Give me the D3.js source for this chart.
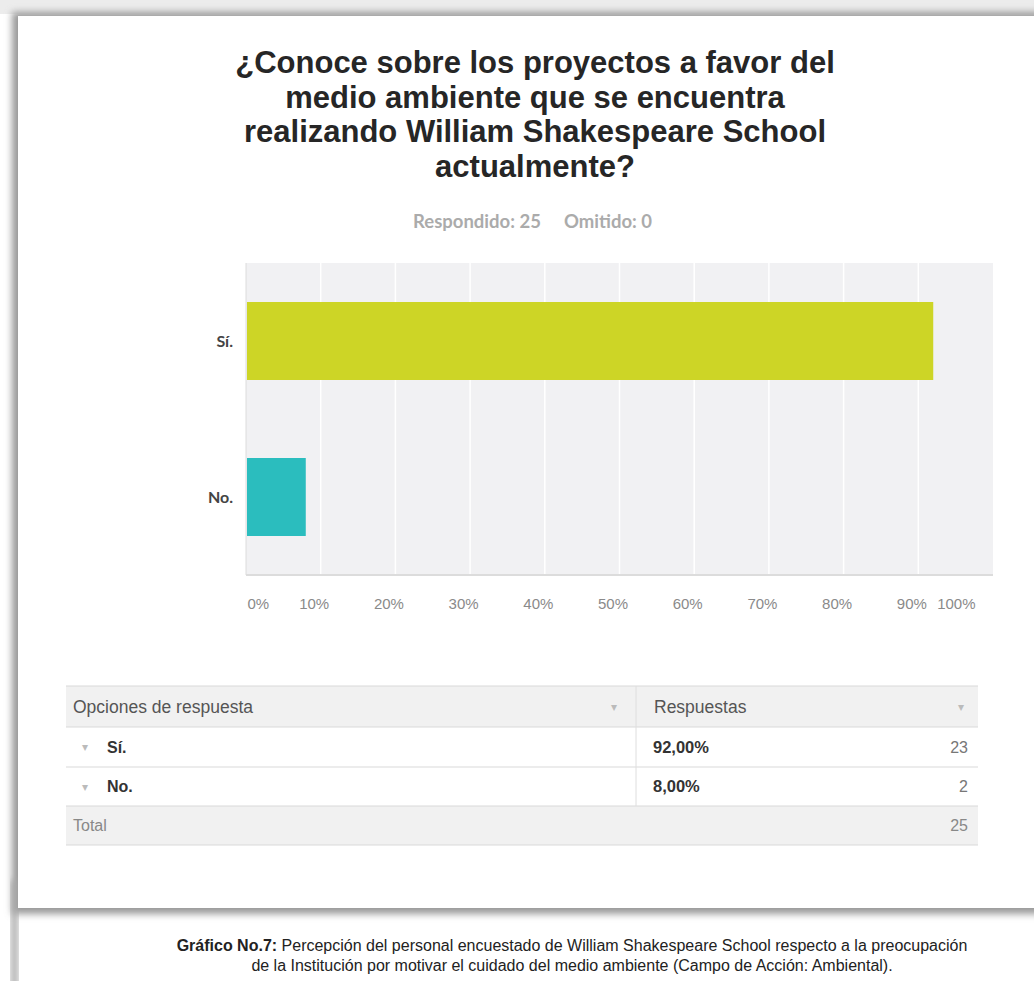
<!DOCTYPE html>
<html>
<head>
<meta charset="utf-8">
<script src="https://cdn.jsdelivr.net/npm/d3@7/dist/d3.min.js"></script>
<style>
  html, body { margin: 0; padding: 0; background: #ffffff; }
  svg { display: block; }
</style>
</head>
<body>
<svg id="chart" width="1034" height="981"></svg>
<script>
// ---- data ----
const titleLines = [
  "¿Conoce sobre los proyectos a favor del",
  "medio ambiente que se encuentra",
  "realizando William Shakespeare School",
  "actualmente?"
];
const answered = 25;
const omitted = 0;
const categories = ["Sí.", "No."];
const percents = [92, 8];
const counts = [23, 2];
const total = 25;
const barColors = ["#cdd526", "#2bbdbe"];
const xTicks = [0, 10, 20, 30, 40, 50, 60, 70, 80, 90, 100];
const tableHeaders = ["Opciones de respuesta", "Respuestas"];
const captionBold = "Gráfico No.7:";
const captionLine1 = " Percepción del personal encuestado de William Shakespeare School respecto a la preocupación";
const captionLine2 = "de la Institución por motivar el cuidado del medio ambiente (Campo de Acción: Ambiental).";

// ---- setup ----
const svg = d3.select("#chart");
const W = 1034, H = 981;
const sans = "'Liberation Sans', Arial, sans-serif";

const defs = svg.append("defs");
const blur = defs.append("filter").attr("id", "shadow")
  .attr("x", "-5%").attr("y", "-5%").attr("width", "110%").attr("height", "110%");
blur.append("feGaussianBlur").attr("stdDeviation", 3.5);

// background frame / shadows
svg.append("rect").attr("x", 0).attr("y", 0).attr("width", W).attr("height", H).attr("fill", "#ffffff");
svg.append("rect").attr("x", 0).attr("y", 0).attr("width", W).attr("height", 14).attr("fill", "#ececec");
svg.append("rect").attr("x", 12).attr("y", 12).attr("width", W + 20).attr("height", 902)
  .attr("fill", "#9a9a9a").attr("filter", "url(#shadow)");
svg.append("rect").attr("x", 11).attr("y", 880).attr("width", 7).attr("height", 120)
  .attr("fill", "#a8a8a8").attr("filter", "url(#shadow)");
svg.append("rect").attr("x", 18).attr("y", 16).attr("width", W).attr("height", 892).attr("fill", "#ffffff");

// ---- title ----
const title = svg.append("g");
titleLines.forEach((t, i) => {
  title.append("text")
    .attr("x", 535).attr("y", 73 + i * 34.5)
    .attr("text-anchor", "middle")
    .attr("font-family", sans).attr("font-weight", "bold").attr("font-size", 31)
    .attr("fill", "#262626")
    .text(t);
});

// subtitle
const sub = svg.append("text")
  .attr("y", 228).attr("font-family", "Lato, 'Open Sans', sans-serif")
  .attr("font-weight", "bold").attr("font-size", 18.5).attr("fill", "#ababab");
sub.append("tspan").attr("x", 413).text("Respondido: " + answered);
sub.append("tspan").attr("x", 564).text("Omitido: " + omitted);

// ---- bar chart ----
const plot = { left: 246, right: 993, top: 263, bottom: 575 };
const x = d3.scaleLinear().domain([0, 100]).range([plot.left, plot.right]);
const y = d3.scaleBand().domain(categories).range([plot.top, plot.bottom])
  .paddingInner(0.5).paddingOuter(0.25);

const g = svg.append("g");
g.append("rect")
  .attr("x", plot.left).attr("y", plot.top)
  .attr("width", plot.right - plot.left).attr("height", plot.bottom - plot.top)
  .attr("fill", "#f1f1f3");

// gridlines
g.selectAll("line.grid").data(xTicks.slice(1, -1)).enter().append("line")
  .attr("class", "grid")
  .attr("x1", d => x(d)).attr("x2", d => x(d))
  .attr("y1", plot.top).attr("y2", plot.bottom)
  .attr("stroke", "#ffffff").attr("stroke-width", 1.5);

// axes lines
g.append("line").attr("x1", plot.left).attr("x2", plot.left)
  .attr("y1", plot.top).attr("y2", plot.bottom).attr("stroke", "#dcdcdc");
g.append("line").attr("x1", plot.left).attr("x2", plot.right)
  .attr("y1", plot.bottom).attr("y2", plot.bottom).attr("stroke", "#dcdcdc").attr("stroke-width", 2);

// bars
g.selectAll("rect.bar").data(categories).enter().append("rect")
  .attr("class", "bar")
  .attr("x", x(0) + 1)
  .attr("y", d => y(d))
  .attr("width", (d, i) => x(percents[i]) - x(0) - 1)
  .attr("height", y.bandwidth())
  .attr("fill", (d, i) => barColors[i]);

// y labels
g.selectAll("text.ylab").data(categories).enter().append("text")
  .attr("class", "ylab")
  .attr("x", plot.left - 13)
  .attr("y", d => y(d) + y.bandwidth() / 2)
  .attr("dy", "0.35em")
  .attr("text-anchor", "end")
  .attr("font-family", "Lato, sans-serif").attr("font-weight", "bold").attr("font-size", 16)
  .attr("fill", "#444444")
  .text(d => d);

// x axis
const xAxis = d3.axisBottom(x).tickValues(xTicks).tickFormat(d => d + "%").tickSize(0).tickPadding(0);
const ax = svg.append("g").attr("transform", `translate(0,${plot.bottom + 34})`).call(xAxis);
ax.select(".domain").remove();
ax.selectAll("text")
  .attr("font-family", sans).attr("font-size", 15).attr("fill", "#8a8a8a")
  .attr("dy", 0)
  .attr("text-anchor", d => d === 0 ? "start" : (d === 100 ? "end" : "middle"))
  .attr("dx", d => d === 0 ? 1 : (d === 100 ? -18 : -7));

// ---- table ----
const tbl = { left: 66, right: 978, top: 686, split: 636 };
const rowH = [41, 40, 39, 39];
const rowY = [tbl.top];
rowH.forEach((h, i) => rowY.push(rowY[i] + h));
const t = svg.append("g");
// header & total backgrounds
t.append("rect").attr("x", tbl.left).attr("y", rowY[0]).attr("width", tbl.right - tbl.left)
  .attr("height", rowH[0]).attr("fill", "#f1f1f1");
t.append("rect").attr("x", tbl.left).attr("y", rowY[3]).attr("width", tbl.right - tbl.left)
  .attr("height", rowH[3]).attr("fill", "#f1f1f1");
// horizontal lines
rowY.forEach(yy => {
  t.append("line").attr("x1", tbl.left).attr("x2", tbl.right).attr("y1", yy).attr("y2", yy)
    .attr("stroke", "#d9d9d9").attr("stroke-width", 1.2);
});
// vertical divider
t.append("line").attr("x1", tbl.split).attr("x2", tbl.split).attr("y1", rowY[0]).attr("y2", rowY[3])
  .attr("stroke", "#dedede");

const txt = (x0, y0, s, opts = {}) => t.append("text")
  .attr("x", x0).attr("y", y0).attr("dy", "0.35em")
  .attr("font-family", sans).attr("font-size", opts.size || 16)
  .attr("font-weight", opts.bold ? "bold" : "normal")
  .attr("text-anchor", opts.anchor || "start")
  .attr("fill", opts.fill || "#555555")
  .text(s);

// header
txt(73, rowY[0] + rowH[0] / 2, tableHeaders[0], { fill: "#555555", size: 17.5 });
txt(614, rowY[0] + rowH[0] / 2, "▾", { fill: "#bbbbbb", anchor: "middle", size: 12 });
txt(654, rowY[0] + rowH[0] / 2, tableHeaders[1], { fill: "#555555", size: 17.5 });
txt(961, rowY[0] + rowH[0] / 2, "▾", { fill: "#bbbbbb", anchor: "middle", size: 12 });

const fmtPct = v => v.toFixed(2).replace(".", ",") + "%";
categories.forEach((c, i) => {
  const cy = rowY[i + 1] + rowH[i + 1] / 2;
  txt(85, cy, "▾", { fill: "#bbbbbb", anchor: "middle", size: 12 });
  txt(107, cy, c, { bold: true, fill: "#333333" });
  txt(653, cy, fmtPct(percents[i]), { bold: true, fill: "#333333", size: 16.5 });
  txt(968, cy, String(counts[i]), { anchor: "end", fill: "#777777" });
});
txt(73, rowY[3] + rowH[3] / 2, "Total", { fill: "#888888" });
txt(968, rowY[3] + rowH[3] / 2, String(total), { anchor: "end", fill: "#888888" });

// ---- caption ----
const cap1 = svg.append("text").attr("x", 572).attr("y", 951).attr("text-anchor", "middle")
  .attr("font-family", sans).attr("font-size", 16).attr("fill", "#222222");
cap1.append("tspan").attr("font-weight", "bold").text(captionBold);
cap1.append("tspan").text(captionLine1);
svg.append("text").attr("x", 572).attr("y", 971).attr("text-anchor", "middle")
  .attr("font-family", sans).attr("font-size", 16).attr("fill", "#222222")
  .text(captionLine2);
</script>
</body>
</html>
